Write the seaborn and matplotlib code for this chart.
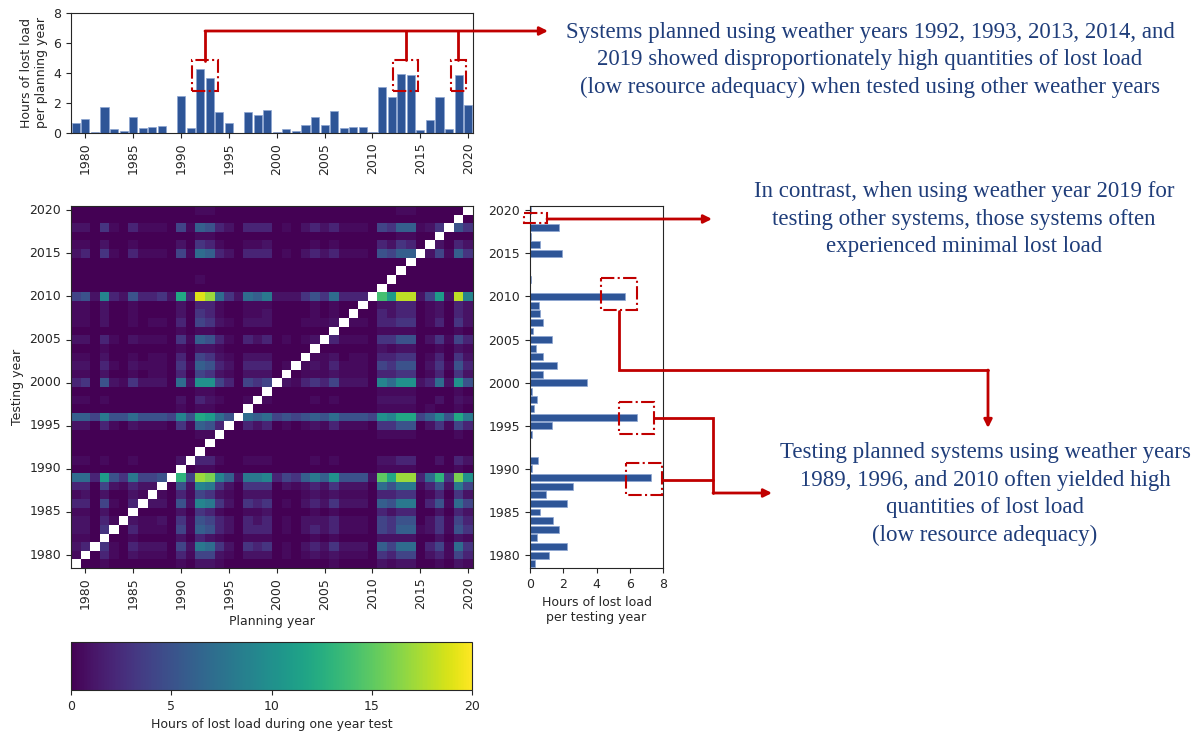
import numpy as np
import pandas as pd
import matplotlib
matplotlib.use("Agg")
import matplotlib.pyplot as plt
from matplotlib.patches import Rectangle, FancyArrowPatch
from matplotlib.lines import Line2D
import seaborn as sns

# ---- data ----
years = list(range(1979, 2021))

# mean hours of lost load per planning year (top bars)
planning_hours = [0.7, 0.95, 0.1, 1.75, 0.3, 0.15, 1.05, 0.35, 0.4, 0.45,
                  0.02, 2.45, 0.35, 4.25, 3.7, 1.4, 0.65, 0.0, 1.4, 1.2,
                  1.55, 0.1, 0.3, 0.15, 0.55, 1.1, 0.55, 1.45, 0.35, 0.4,
                  0.4, 0.1, 3.1, 2.4, 3.95, 3.85, 0.2, 0.85, 2.4, 0.3,
                  3.85, 1.9]

# mean hours of lost load per testing year (right bars), 1979 -> 2020
testing_hours = [0.3, 1.15, 2.2, 0.45, 1.75, 1.4, 0.6, 2.25, 0.95, 2.6,
                 7.3, 0.15, 0.5, 0.0, 0.0, 0.12, 1.3, 6.45, 0.22, 0.4,
                 0.15, 3.4, 0.78, 1.6, 0.8, 0.35, 1.35, 0.2, 0.8, 0.6,
                 0.55, 5.7, 0.0, 0.05, 0.0, 0.0, 1.95, 0.6, 0.05, 1.75,
                 0.02, 0.05]

# heatmap cells, one string per testing year (2020 at top -> 1979 at bottom),
# one char per planning year 1979..2020: 0-9,a-k = 0..20 h, '.' = 0.5 h, '-' = diagonal
heat_rows = [
    "0000000000 000..00000 0000000000 0000..0000 0-",  # 2020
    "0000000000 0000000000 0000000000 0000000000 -0",  # 2019
    "1103.02... 04.6521022 20.01212.. .04366.13- 53",  # 2018
    "0000000000 000..00000 0000000000 0000..00-0 00",  # 2017
    "..0100.000 01032.00.. 10000.0.00 0021320-10 21",  # 2016
    "1203.02... 04.7621022 20.01212.. .05466-14. 63",  # 2015
    "0000000000 0000000000 0000000000 00000-0000 00",  # 2014
    "0000000000 0000000000 0000000000 0000-00000 00",  # 2013
    "0000000000 000.000000 0000000000 000-000000 00",  # 2012
    "0000000000 0000000000 0000000000 00-0000000 00",  # 2011
    "4519215223 1c2jh73176 8111353722 2-ebii14b1 i9",  # 2010
    "..0100.000 01022.00.. .0000.0.00 -011220.10 21",  # 2009
    "..0100.000 01032.00.. 10000.0.0- 0021220.10 21",  # 2008
    "..0100.0.. 020431.011 1000...1-. .022330.20 31",  # 2007
    "0000000000 0.0..00000 0000000-00 00....0000 .0",  # 2006
    "1102.01... 03.652.021 20.0.1-2.. .03355013. 42",  # 2005
    "000.000000 0.011.0000 00000-0000 001.1100.0 1.",  # 2004
    "..0100.0.. 020431.011 1000-..10. .022330.20 31",  # 2003
    "1102.01... 03.6521022 20.-.1.2.. .04355013. 52",  # 2002
    "..0100.0.. 020431.011 10-0...1.. .022330.20 31",  # 2001
    "23051.3111 071aa42043 4-1.232411 1097aa1271 a5",  # 2000
    "0000000000 000..00000 -000000000 00....0000 .0",  # 1999
    "..0.000000 01021.00.- .0000.0.00 0011110010 1.",  # 1998
    "0000000000 0.0..000-0 0000000000 00....0.00 .0",  # 1997
    "6648557555 495cb75-76 7454565755 54a9cc4695 c8",  # 1996
    "1102.01... 03.652-021 20.0.1.2.. .03355013. 42",  # 1995
    "0000000000 000..-0000 0000000000 00....0000 .0",  # 1994
    "0000000000 0000-00000 0000000000 0000000000 00",  # 1993
    "0000000000 000-000000 0000000000 0000000000 00",  # 1992
    "..0.00.000 01-22.00.. .0000.0.00 0011220010 21",  # 1991
    "0000000000 0-0..00000 0000000000 00....0000 .0",  # 1990
    "772b538445 -d4hg96188 9243686a55 51fchh27d3 ga",  # 1989
    "22041.211- 0519831033 301.121311 107588.251 84",  # 1988
    ".101001.-. 02.431.011 1000.1.1.. .022330.20 31",  # 1987
    "2204.02-11 0519831032 30.0121311 106588025. 74",  # 1986
    "..0100-000 01032.00.. 10000.0.00 0021220010 21",  # 1985
    "1102.-1..1 03.5421021 20.01112.. .04355013. 42",  # 1984
    "1103-02... 04.6521022 20.01212.. .04366.13. 53",  # 1983
    "..0-00.000 01021.00.. .0000.0.00 0011110010 1.",  # 1982
    "12-3.02111 0418731032 30.0121311 106477024. 73",  # 1981
    ".-02.01... 02.441.011 10.0.1.1.. .03244012. 42",  # 1980
    "-00.000000 0.011.0000 0000000.00 001.1100.0 1.",  # 1979
]

note_planned = ("Systems planned using weather years 1992, 1993, 2013, 2014, and\n"
                "2019 showed disproportionately high quantities of lost load\n"
                "(low resource adequacy) when tested using other weather years")
note_2019 = ("In contrast, when using weather year 2019 for\n"
             "testing other systems, those systems often\n"
             "experienced minimal lost load")
note_testing = ("Testing planned systems using weather years\n"
                "1989, 1996, and 2010 often yielded high\n"
                "quantities of lost load\n"
                "(low resource adequacy)")

LEVELS = "0123456789abcdefghijk"


def decode(row):
    row = row.replace(" ", "")
    assert len(row) == 42, row
    vals = []
    for ch in row:
        if ch == "-":
            vals.append(np.nan)
        elif ch == ".":
            vals.append(0.5)
        else:
            vals.append(float(LEVELS.index(ch)))
    return vals


BAR = "#2e5597"
EDGE = "#8da6d2"
RED = "#c00000"
NAVY = "#1f3d7a"

sns.set_style("ticks")
plt.rcParams["font.family"] = ["DejaVu Sans"]
plt.rcParams["xtick.labelsize"] = 9
plt.rcParams["ytick.labelsize"] = 9
plt.rcParams["axes.labelsize"] = 9

W, H = 1203, 731
fig = plt.figure(figsize=(W / 100, H / 100), dpi=100)


def rect(l, t, r, b):
    return [l / W, 1 - b / H, (r - l) / W, (b - t) / H]


def fx(x, y):
    return (x / W, 1 - y / H)


ax_top = fig.add_axes(rect(71, 13, 473, 133))
ax_hm = fig.add_axes(rect(71, 206, 473, 568))
ax_right = fig.add_axes(rect(530, 206, 663, 568))
cax = fig.add_axes(rect(71, 642, 472, 690))

five = [i for i, y in enumerate(years) if y % 5 == 0]
rows = years[::-1]
five_rows = [i for i, y in enumerate(rows) if y % 5 == 0]

# ---- heatmap ----
df = pd.DataFrame([decode(r) for r in heat_rows], index=rows, columns=years)
sns.heatmap(df, ax=ax_hm, cmap="viridis", vmin=0, vmax=20, cbar_ax=cax,
            cbar_kws={"orientation": "horizontal", "ticks": [0, 5, 10, 15, 20]})
ax_hm.set_xticks([i + 0.5 for i in five])
ax_hm.set_xticklabels([years[i] for i in five], rotation=90)
ax_hm.set_yticks([i + 0.5 for i in five_rows])
ax_hm.set_yticklabels([rows[i] for i in five_rows], rotation=0)
ax_hm.tick_params(length=3.5, width=0.8)
for sp in ax_hm.spines.values():
    sp.set_visible(True)
    sp.set_linewidth(0.8)
ax_hm.set_xlabel("Planning year")
ax_hm.set_ylabel("Testing year")

cb = ax_hm.collections[0].colorbar
cb.outline.set_linewidth(0.8)
cb.outline.set_edgecolor(".15")
cb.set_label("Hours of lost load during one year test", fontsize=9)
cax.tick_params(labelsize=9, length=3.5, width=0.8)

# ---- top bars ----
sns.barplot(x=years, y=planning_hours, ax=ax_top, color=BAR, saturation=1,
            width=0.85, edgecolor=EDGE, linewidth=0.5)
ax_top.set_xlim(-0.5, len(years) - 0.5)
ax_top.set_ylim(0, 8)
ax_top.set_yticks([0, 2, 4, 6, 8])
ax_top.set_xticks(five)
ax_top.set_xticklabels([years[i] for i in five], rotation=90)
ax_top.set_ylabel("Hours of lost load\nper planning year")
ax_top.set_xlabel("")

# ---- right bars ----
sns.barplot(x=testing_hours, y=years, orient="h", order=rows, ax=ax_right,
            color=BAR, saturation=1, width=0.8, edgecolor=EDGE, linewidth=0.5)
ax_right.set_ylim(len(years) - 0.5, -0.5)
ax_right.set_xlim(0, 8)
ax_right.set_xticks([0, 2, 4, 6, 8])
ax_right.set_yticks(five_rows)
ax_right.set_yticklabels([rows[i] for i in five_rows])
ax_right.set_xlabel("Hours of lost load\nper testing year")
ax_right.set_ylabel("")

# ---- annotation boxes (data coordinates) ----
top_boxes = [(12.1, 14.9), (33.1, 35.8), (39.2, 40.8)]
for x0, x1 in top_boxes:
    ax_top.add_patch(Rectangle((x0, 2.8), x1 - x0, 2.05, fill=False, ec=RED,
                               lw=1.5, ls="-.", clip_on=False, zorder=5))

right_boxes = [(-0.36, 1.0, 0.3, 1.5), (4.3, 6.45, 7.9, 11.6),
               (5.35, 7.45, 22.2, 25.9), (5.8, 7.95, 29.3, 33.0)]
for x0, x1, y0, y1 in right_boxes:
    ax_right.add_patch(Rectangle((x0, y0), x1 - x0, y1 - y0, fill=False, ec=RED,
                                 lw=1.5, ls="-.", clip_on=False, zorder=5))

# ---- connectors (figure pixels) ----
paths = [
    ([(205, 61), (205, 31), (548, 31)], True),
    ([(405.5, 60), (405.5, 31)], False),
    ([(457.5, 60), (457.5, 31)], False),
    ([(547, 219), (712, 219)], True),
    ([(619, 311), (619, 370), (988, 370), (988, 428)], True),
    ([(654, 418), (713, 418), (713, 493), (772, 493)], True),
    ([(662, 480), (713, 480)], False),
]
for pts, arrow in paths:
    p = [fx(*q) for q in pts]
    body = p[:-1] if arrow else p
    if len(body) > 1:
        fig.add_artist(Line2D([a for a, b in body], [b for a, b in body],
                              transform=fig.transFigure, color=RED, lw=2,
                              solid_joinstyle="miter"))
    if arrow:
        fig.add_artist(FancyArrowPatch(p[-2], p[-1], transform=fig.transFigure,
                                       arrowstyle="-|>", mutation_scale=12,
                                       color=RED, lw=2, shrinkA=0, shrinkB=0))

# ---- notes ----
txt = dict(ha="center", va="center", color=NAVY, fontsize=16.5,
           family="Liberation Serif", linespacing=1.42, multialignment="center")
fig.text(*fx(870, 60), note_planned, **txt)
fig.text(*fx(964, 219), note_2019, **txt)
fig.text(*fx(985, 494), note_testing, **txt)

fig.savefig("out.png", dpi=100)
